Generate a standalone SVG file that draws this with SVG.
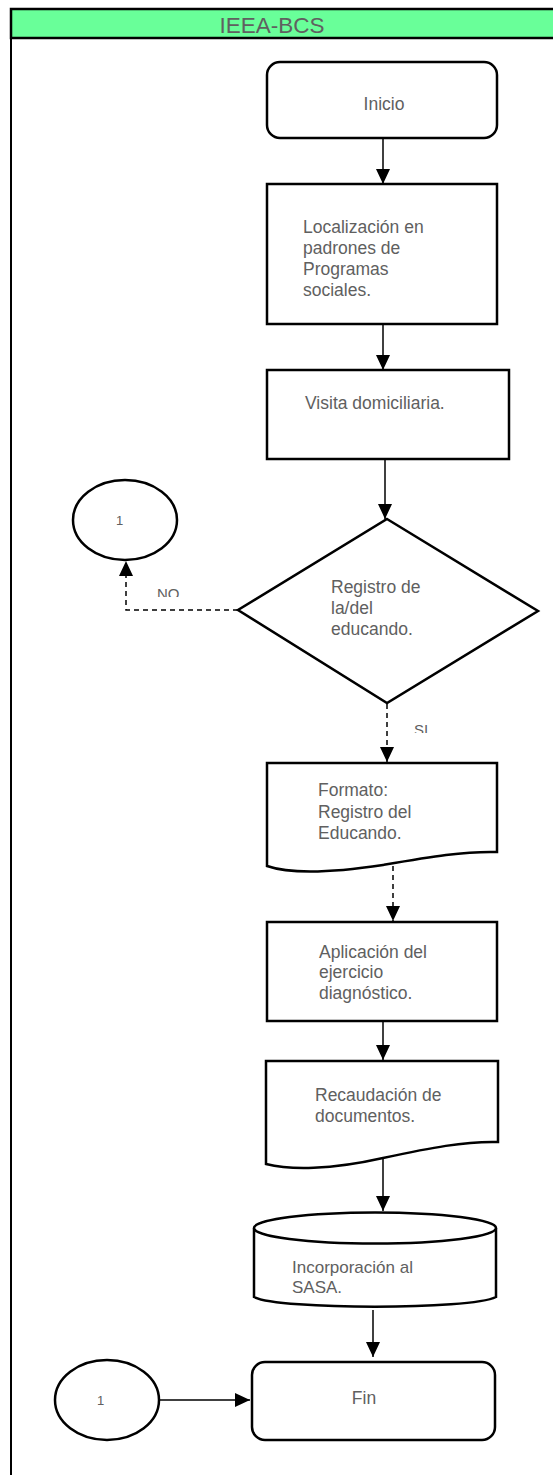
<svg xmlns="http://www.w3.org/2000/svg" width="553" height="1475" viewBox="0 0 553 1475">
<style>
.shape{fill:#fff;stroke:#000;stroke-width:2.5}
.conn{fill:none;stroke:#000;stroke-width:1.5}
.dash{stroke-dasharray:5,4}
.t{font-family:"Liberation Sans",Arial,sans-serif;fill:#606060;font-size:17.5px}
.sm{font-size:13px}
.lbl{font-size:15px}
</style>
<defs>
<marker id="ah" markerUnits="userSpaceOnUse" markerWidth="16" markerHeight="16" viewBox="0 0 16 16" refX="15" refY="8" orient="auto">
<path d="M0,1 L15,8 L0,15 Z" fill="#000"/>
</marker>
<clipPath id="cNO"><rect x="140" y="575" width="50" height="22"/></clipPath>
<clipPath id="cSI"><rect x="405" y="712" width="40" height="21"/></clipPath>
</defs>
<g id="frame">
<rect x="11" y="9" width="545" height="29" fill="#69ff99" stroke="#000" stroke-width="2.5"/>
<line x1="11" y1="38" x2="11" y2="1475" stroke="#000" stroke-width="2"/>
<text class="t" x="272" y="33" text-anchor="middle" style="font-size:22.5px">IEEA-BCS</text>
</g>
<g id="connectors">
<line class="conn" x1="383" y1="139" x2="383" y2="184" marker-end="url(#ah)"/>
<line class="conn" x1="383" y1="325" x2="383" y2="370" marker-end="url(#ah)"/>
<line class="conn" x1="385" y1="460" x2="385" y2="519" marker-end="url(#ah)"/>
<polyline class="conn dash" points="238,610 126,610 126,561" marker-end="url(#ah)"/>
<line class="conn dash" x1="387" y1="704" x2="387" y2="762" marker-end="url(#ah)"/>
<line class="conn dash" x1="393" y1="866" x2="393" y2="921" marker-end="url(#ah)"/>
<line class="conn" x1="383" y1="1022" x2="383" y2="1060" marker-end="url(#ah)"/>
<line class="conn" x1="383" y1="1158" x2="383" y2="1211" marker-end="url(#ah)"/>
<line class="conn" x1="373" y1="1310" x2="373" y2="1357" marker-end="url(#ah)"/>
<line class="conn" x1="159" y1="1400" x2="250" y2="1400" marker-end="url(#ah)"/>
<g clip-path="url(#cNO)"><text class="t lbl" x="157" y="599">NO</text></g>
<g clip-path="url(#cSI)"><text class="t lbl" x="414" y="735">SI</text></g>
</g>
<g id="inicio">
<rect class="shape" x="267" y="62" width="230" height="76" rx="13"/>
<text class="t" x="384" y="110" text-anchor="middle">Inicio</text>
</g>
<g id="localizacion">
<rect class="shape" x="267" y="184" width="230" height="140"/>
<text class="t" x="303" y="233">Localización en</text>
<text class="t" x="303" y="254">padrones de</text>
<text class="t" x="303" y="275">Programas</text>
<text class="t" x="303" y="296">sociales.</text>
</g>
<g id="visita">
<rect class="shape" x="267" y="370" width="242" height="89"/>
<text class="t" x="305" y="409">Visita domiciliaria.</text>
</g>
<g id="decision">
<polygon class="shape" points="387,519 538,611 387,703 238,610"/>
<text class="t" x="331" y="593">Registro de</text>
<text class="t" x="331" y="614">la/del</text>
<text class="t" x="331" y="635">educando.</text>
</g>
<g id="conector1a">
<ellipse class="shape" cx="125" cy="520" rx="52" ry="40"/>
<text class="t sm" x="116" y="525">1</text>
</g>
<g id="formato">
<path class="shape" d="M267,763 H497 V852 C465,851 430,857 383,865 C330,873 290,874 267,866 Z"/>
<text class="t" x="318" y="796">Formato:</text>
<text class="t" x="318" y="818">Registro del</text>
<text class="t" x="318" y="839">Educando.</text>
</g>
<g id="aplicacion">
<rect class="shape" x="267" y="922" width="230" height="99"/>
<text class="t" x="319" y="958">Aplicación del</text>
<text class="t" x="319" y="978">ejercicio</text>
<text class="t" x="319" y="999">diagnóstico.</text>
</g>
<g id="recaudacion">
<path class="shape" d="M266,1061 H498 V1142 C465,1141 430,1148 383,1158 C330,1170 290,1170 266,1164 Z"/>
<text class="t" x="315" y="1101">Recaudación de</text>
<text class="t" x="315" y="1122">documentos.</text>
</g>
<g id="sasa">
<path class="shape" d="M254,1228 V1297 C280,1310 470,1310 496,1297 V1228"/>
<ellipse class="shape" cx="375" cy="1228" rx="121" ry="15.5"/>
<text class="t" x="292" y="1273" style="font-size:17px">Incorporación al</text>
<text class="t" x="292" y="1293" style="font-size:17px">SASA.</text>
</g>
<g id="conector1b">
<ellipse class="shape" cx="107" cy="1400" rx="52" ry="40"/>
<text class="t sm" x="97" y="1405">1</text>
</g>
<g id="fin">
<rect class="shape" x="252" y="1362" width="243" height="78" rx="13"/>
<text class="t" x="364" y="1404" text-anchor="middle">Fin</text>
</g>
</svg>
